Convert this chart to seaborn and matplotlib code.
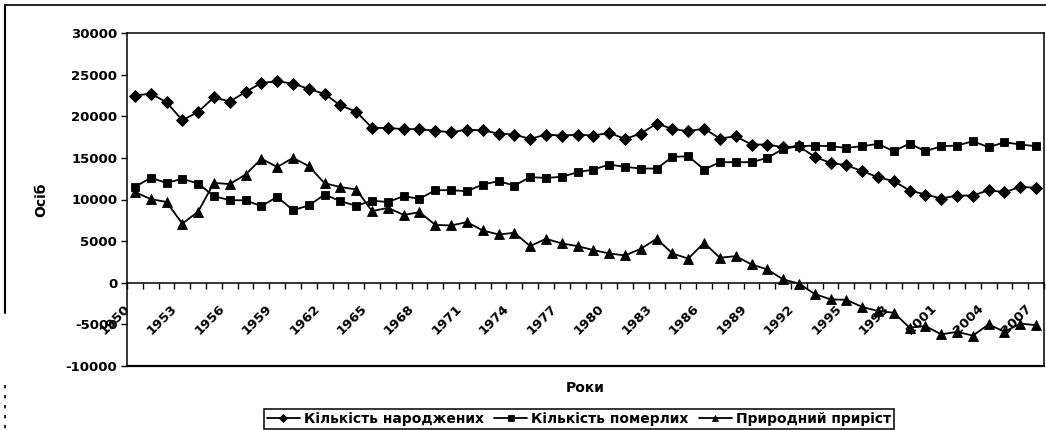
import numpy as np
import pandas as pd
import matplotlib
matplotlib.use('Agg')
import matplotlib.pyplot as plt
import matplotlib.transforms as mtransforms
from matplotlib.lines import Line2D
import seaborn as sns

# Data (persons per year, 1950-2007)
years = list(range(1950, 2008))

births = [22480, 22720, 21680, 19520, 20520, 22280, 21760, 22920, 24000, 24200,
          23920, 23280, 22680, 21300, 20550, 18600, 18600, 18450, 18450, 18250,
          18080, 18400, 18300, 17920, 17800, 17280, 17800, 17680, 17800, 17680,
          18000, 17280, 17920, 19120, 18480, 18200, 18520, 17320, 17600, 16600,
          16600, 16280, 16400, 15120, 14400, 14120, 13400, 12680, 12200, 11080,
          10600, 10120, 10480, 10480, 11120, 10880, 11520, 11400]

deaths = [11520, 12600, 12000, 12480, 11920, 10400, 9920, 9900, 9200, 10320,
          8720, 9280, 10600, 9800, 9250, 9850, 9700, 10400, 10080, 11120,
          11120, 11000, 11800, 12200, 11680, 12680, 12600, 12720, 13280, 13600,
          14200, 13920, 13720, 13720, 15120, 15200, 13600, 14480, 14480, 14480,
          15000, 16080, 16400, 16480, 16400, 16200, 16400, 16680, 15800, 16720,
          15800, 16400, 16480, 17000, 16280, 16880, 16600, 16400]

natural = [10900, 10050, 9700, 7100, 8550, 12000, 11850, 13000, 14900, 13900,
           15000, 14000, 11950, 11500, 11200, 8600, 9000, 8150, 8480, 6950,
           6880, 7280, 6280, 5800, 6000, 4400, 5280, 4720, 4400, 3920,
           3520, 3280, 4080, 5280, 3520, 2900, 4800, 3000, 3200, 2200,
           1600, 400, -100, -1350, -2000, -2050, -2900, -3400, -3600, -5400,
           -5200, -6200, -5900, -6350, -5000, -5900, -4900, -5100]

series_names = ['Кількість народжених', 'Кількість померлих', 'Природний приріст']
label_years = years[::3]

W, H = 1046, 430


def main():
    sns.set_style('white')
    plt.rcParams['font.family'] = ['DejaVu Sans']
    plt.rcParams['font.weight'] = 'bold'
    plt.rcParams['axes.unicode_minus'] = False
    plt.rcParams['text.color'] = 'black'
    plt.rcParams['axes.labelcolor'] = 'black'
    plt.rcParams['xtick.color'] = 'black'
    plt.rcParams['ytick.color'] = 'black'

    fig = plt.figure(figsize=(W / 100, H / 100), dpi=100)
    # plot area in pixels: x 127..1044, y 33..366
    ax = fig.add_axes([127 / W, 1 - 366 / H, (1044 - 127) / W, (366 - 33) / H])

    styles = [('D', 6.5), ('s', 6.2), ('^', 7.5)]
    for name, vals, (m, ms) in zip(series_names, [births, deaths, natural], styles):
        sns.lineplot(x=years, y=vals, ax=ax, color='black', linewidth=1.3,
                     marker=m, markersize=ms, markeredgecolor='black',
                     markeredgewidth=0.6, label=name)

    ax.set_xlim(years[0] - 0.5, years[-1] + 0.5)
    ax.set_ylim(-10000, 30000)
    ax.set_yticks(np.arange(-10000, 30001, 5000))

    # frame
    for side in ['left', 'right', 'top', 'bottom']:
        ax.spines[side].set_visible(True)
        ax.spines[side].set_color('black')
        ax.spines[side].set_linewidth(1.1)
    ax.spines['bottom'].set_position(('data', 0))
    ax.axhline(-10000, color='black', lw=1.6, clip_on=False)

    # category ticks
    ax.set_xticks(label_years)
    ax.set_xticklabels([str(y) for y in label_years], rotation=45, ha='right',
                       va='center', rotation_mode='anchor', fontsize=9.5,
                       fontweight='bold', color='black')
    ax.set_xticks(np.arange(years[0] - 0.5, years[-1] + 1, 1.0), minor=True)
    ax.tick_params(axis='x', which='major', length=0, pad=17)
    ax.tick_params(axis='x', which='minor', length=4, width=1, direction='out',
                   color='black', bottom=True)
    offset = mtransforms.ScaledTranslation(-5 / 72, 0, fig.dpi_scale_trans)
    for lab in ax.get_xticklabels():
        lab.set_transform(lab.get_transform() + offset)

    ax.tick_params(axis='y', which='major', length=4, width=1, direction='out',
                   color='black', left=True, labelsize=9.5, pad=3,
                   labelcolor='black')
    for lab in ax.get_yticklabels():
        lab.set_fontweight('bold')

    ax.set_xlabel('Роки', fontsize=10, fontweight='bold', va='top', color='black')
    ax.xaxis.set_label_coords(0.5, -0.045)
    ax.set_ylabel('Осіб', fontsize=10, fontweight='bold', va='center', color='black')
    ax.yaxis.set_label_coords(-0.093, 0.5)

    leg = ax.legend(loc='center', bbox_to_anchor=(579 / W, 1 - 419 / H),
                    bbox_transform=fig.transFigure, ncol=3, frameon=True,
                    fancybox=False, edgecolor='black', framealpha=1,
                    prop={'size': 10, 'weight': 'bold'}, markerscale=0.6,
                    handlelength=2.4, handletextpad=0.3, columnspacing=0.7,
                    borderpad=0.2, borderaxespad=0)
    leg.get_frame().set_linewidth(1.1)
    for t in leg.get_texts():
        t.set_color('black')

    # outer chart border (partly visible in the scan)
    fig.add_artist(Line2D([5 / W, 5 / W], [1 - 5 / H, 1 - 313 / H],
                          transform=fig.transFigure, color='black', lw=1.5))
    fig.add_artist(Line2D([5 / W, 5 / W], [1 - 385 / H, 0],
                          transform=fig.transFigure, color='black', lw=1.2,
                          linestyle=(0, (2, 4))))
    fig.add_artist(Line2D([5 / W, 1], [1 - 5 / H, 1 - 5 / H],
                          transform=fig.transFigure, color='black', lw=1.2))

    fig.savefig('out.png', dpi=100, facecolor='white')


if __name__ == '__main__':
    main()
